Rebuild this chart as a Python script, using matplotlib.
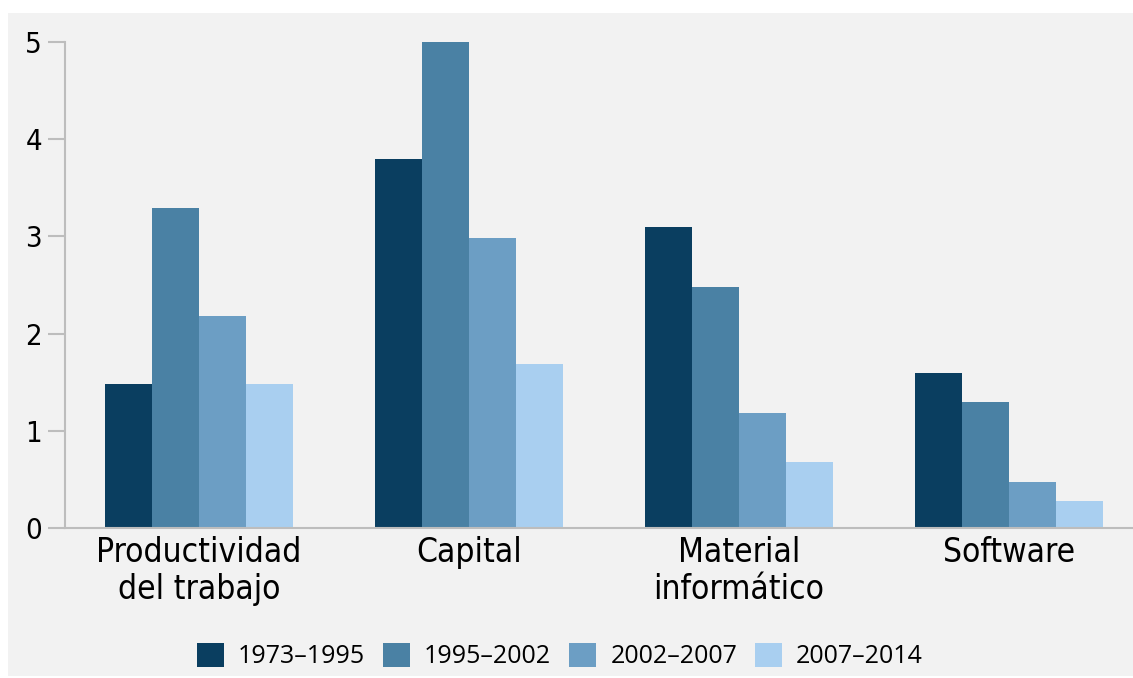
import matplotlib
matplotlib.use("Agg")
from matplotlib import pyplot as plt
from matplotlib.patches import Rectangle
import numpy as np

categories = ["Productividad\ndel trabajo", "Capital", "Material\ninformático", "Software"]
periods = ["1973\u20131995", "1995\u20132002", "2002\u20132007", "2007\u20132014"]
v_1973_1995 = [1.48, 3.80, 3.10, 1.59]
v_1995_2002 = [3.29, 5.00, 2.48, 1.30]
v_2002_2007 = [2.18, 2.98, 1.18, 0.47]
v_2007_2014 = [1.48, 1.69, 0.68, 0.28]
series = [v_1973_1995, v_1995_2002, v_2002_2007, v_2007_2014]
colors = ["#0a3e60", "#4a81a4", "#6c9ec4", "#a9cff0"]

narrow = ["Liberation Sans Narrow", "DejaVu Sans"]

fig = plt.figure(figsize=(11.33, 6.78), dpi=100)
fig.patches.append(Rectangle((8 / 1133, 2 / 678), 1 - 8 / 1133, (678 - 15) / 678,
                             transform=fig.transFigure, facecolor="#f2f2f2",
                             edgecolor="none", zorder=-10))

ax = fig.add_axes([65 / 1133, 150 / 678, 1 - 65 / 1133, 486 / 678])
ax.set_facecolor("none")

x = np.arange(len(categories))
w = 0.174
for i, vals in enumerate(series):
    ax.bar(x + (i - 1.5) * w, vals, w, color=colors[i], label=periods[i], zorder=2)

ax.set_xlim(-0.496, 3.459)
ax.set_ylim(0, 5)
ax.set_yticks([0, 1, 2, 3, 4, 5])
ax.set_xticks(x)
ax.set_xticklabels(categories, family=narrow, fontstretch="condensed",
                   fontsize=24, linespacing=1.16)
for lab in ax.get_yticklabels():
    lab.set_family(narrow)
    lab.set_fontstretch("condensed")
    lab.set_fontsize(21)
ax.tick_params(axis="y", length=12.5, width=1.5, color="#bdbdbd", pad=4)
ax.tick_params(axis="x", length=0, pad=6)

for s in ["top", "right"]:
    ax.spines[s].set_visible(False)
for s in ["left", "bottom"]:
    ax.spines[s].set_color("#bdbdbd")
    ax.spines[s].set_linewidth(1.5)

fig.legend(loc="center", bbox_to_anchor=(560 / 1133, 22 / 678), ncol=4, frameon=False,
           prop={"family": ["Open Sans", "DejaVu Sans"], "size": 18},
           handlelength=1.08, handleheight=1.08, handletextpad=0.56, columnspacing=0.72)

fig.savefig("out.png", dpi=100)
